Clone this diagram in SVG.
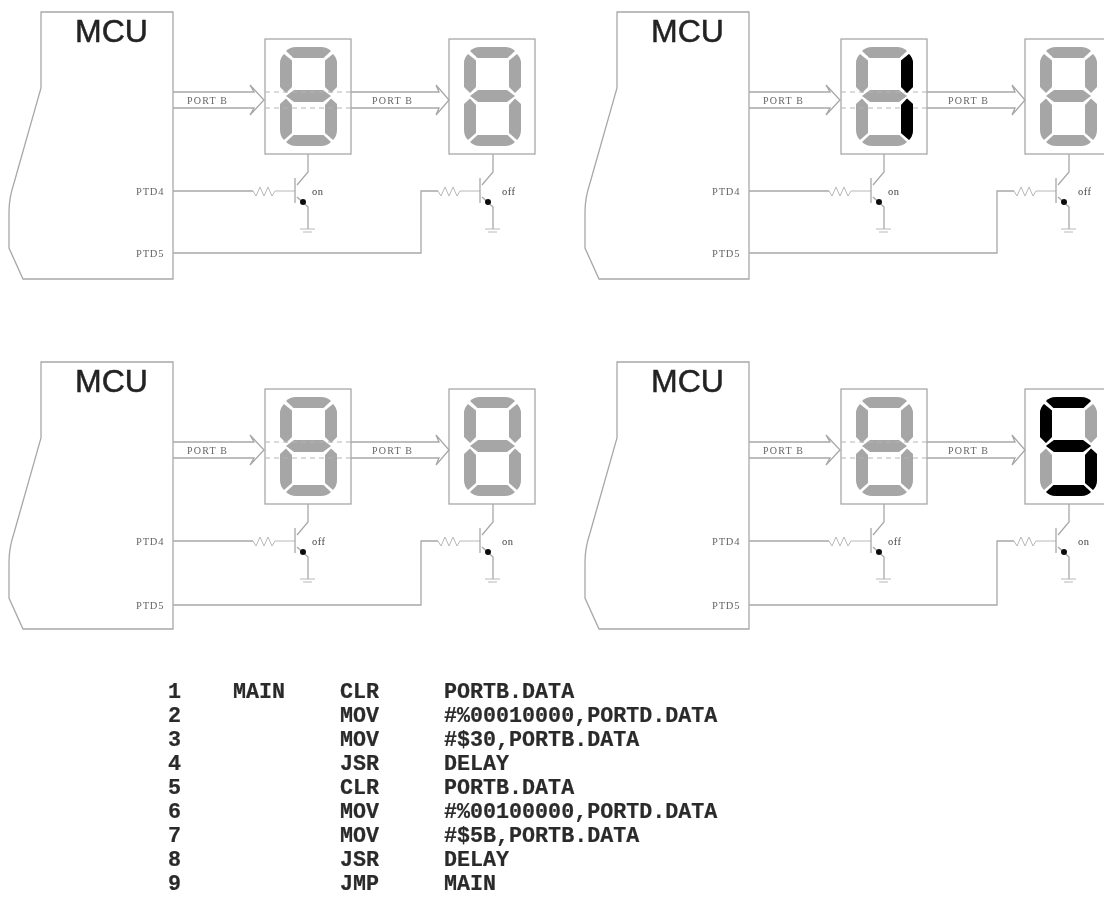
<svg xmlns="http://www.w3.org/2000/svg" xmlns:xlink="http://www.w3.org/1999/xlink" width="1104" height="897" viewBox="0 0 1104 897">
<style>
.ln{fill:none;stroke:#a8a8a8;stroke-width:1.3}
.thin{fill:none;stroke:#b8b8b8;stroke-width:1}
.dot{fill:none;stroke:#b4b4b4;stroke-width:1;stroke-dasharray:5 4}
.seg{fill:#a6a6a6}
.lit{fill:#000}
.mcu{font:32px "Liberation Sans",Arial,sans-serif;fill:#222;stroke:#222;stroke-width:.5}
.pin{font:10.5px "Liberation Serif","Times New Roman",serif;fill:#666;letter-spacing:.8px}
.bus{font:10px "Liberation Serif","Times New Roman",serif;fill:#666;letter-spacing:1.2px}
.st{font:10.5px "Liberation Serif","Times New Roman",serif;fill:#444;letter-spacing:.5px}
.code{font:bold 21.7px "Liberation Mono","Courier New",monospace;fill:#2a2a2a;stroke:#2a2a2a;stroke-width:.2}
</style>
<defs>
<filter id="soft" filterUnits="userSpaceOnUse" x="0" y="0" width="1104" height="897"><feGaussianBlur stdDeviation="0.6"/></filter>
<path id="shell" d="M41 12H173V279H23L9 248V212Q9 198 14 183L41 88Z"/>
<path id="segA" d="M286 51Q290 47 296 47H321Q327 47 331 51L323.5 58H293.5Z"/>
<path id="segB" d="M337 63Q337 58 333 54L325 60.5V87L331 93L337 87Z"/>
<path id="segC" d="M337 130Q337 136 333 140L325 133V105L331 98.5L337 104Z"/>
<path id="segD" d="M286 142Q290 146 296 146H321Q327 146 331 142L323.5 135H293.5Z"/>
<path id="segE" d="M280 130Q280 136 284 140L292 133V105L286 98.5L280 104Z"/>
<path id="segF" d="M280 63Q280 58 284 54L292 60.5V87L286 93L280 87Z"/>
<path id="segG" d="M286 96L294 90H323L331 96L323 102H294Z"/>
<g id="digit" class="seg"><use href="#segA"/><use href="#segB"/><use href="#segC"/><use href="#segD"/><use href="#segE"/><use href="#segF"/><use href="#segG"/></g>
<rect id="frame" x="265" y="39" width="86" height="115"/>
<g id="npn">
<path class="thin" d="M-42 0l3 5l4-9l4 9l4-9l4 9l3-5H0"/>
<path class="ln" d="M0-13V12M2-6L13-19V-37M2 6L13 16V38"/>
<path class="thin" d="M5 38H20M8 41H17"/>
<circle cx="8" cy="11" r="3" fill="#111"/>
</g>
<path id="bus1" class="ln" d="M173 92H254L250 85L264 100L250 115L254 108H173"/>
<path id="bus2" class="ln" d="M351 92H439L436 85L449 100L436 115L439 108H351"/>
<path id="thru" class="dot" d="M265 92H351M265 108H351"/>
</defs>
<rect width="1104" height="897" fill="#fff"/>
<g filter="url(#soft)">
<g id="connectors">
<g id="wires-1"><use href="#bus1"/><use href="#bus2"/><path class="ln" d="M173 191H253M173 253H421V191H438"/></g>
<g id="wires-2" transform="translate(576 0)"><use href="#bus1"/><use href="#bus2"/><path class="ln" d="M173 191H253M173 253H421V191H438"/></g>
<g id="wires-3" transform="translate(0 350)"><use href="#bus1"/><use href="#bus2"/><path class="ln" d="M173 191H253M173 255H421V191H438"/></g>
<g id="wires-4" transform="translate(576 350)"><use href="#bus1"/><use href="#bus2"/><path class="ln" d="M173 191H253M173 255H421V191H438"/></g>
</g>

<g id="mcu-1"><use href="#shell" class="ln"/><text class="mcu" x="75" y="42">MCU</text><text class="pin" x="136" y="195">PTD4</text><text class="pin" x="136" y="257">PTD5</text><text class="bus" x="187" y="104">PORT B</text></g>
<g id="display-1a"><use href="#frame" class="ln"/><use href="#digit"/><use href="#thru"/></g>
<g id="display-1b"><use href="#frame" class="ln" x="184"/><use href="#digit" x="184"/><text class="bus" x="372" y="104">PORT B</text></g>
<g id="transistor-1a"><use href="#npn" x="295" y="191"/><text class="st" x="312" y="195">on</text></g>
<g id="transistor-1b"><use href="#npn" x="480" y="191"/><text class="st" x="502" y="195">off</text></g>

<g transform="translate(576 0)">
<g id="mcu-2"><use href="#shell" class="ln"/><text class="mcu" x="75" y="42">MCU</text><text class="pin" x="136" y="195">PTD4</text><text class="pin" x="136" y="257">PTD5</text><text class="bus" x="187" y="104">PORT B</text></g>
<g id="display-2a"><use href="#frame" class="ln"/><use href="#digit"/><use href="#thru"/><use href="#segB" class="lit"/><use href="#segC" class="lit"/></g>
<g id="display-2b"><use href="#frame" class="ln" x="184"/><use href="#digit" x="184"/><text class="bus" x="372" y="104">PORT B</text></g>
<g id="transistor-2a"><use href="#npn" x="295" y="191"/><text class="st" x="312" y="195">on</text></g>
<g id="transistor-2b"><use href="#npn" x="480" y="191"/><text class="st" x="502" y="195">off</text></g>
</g>

<g transform="translate(0 350)">
<g id="mcu-3"><use href="#shell" class="ln"/><text class="mcu" x="75" y="42">MCU</text><text class="pin" x="136" y="195">PTD4</text><text class="pin" x="136" y="259">PTD5</text><text class="bus" x="187" y="104">PORT B</text></g>
<g id="display-3a"><use href="#frame" class="ln"/><use href="#digit"/><use href="#thru"/></g>
<g id="display-3b"><use href="#frame" class="ln" x="184"/><use href="#digit" x="184"/><text class="bus" x="372" y="104">PORT B</text></g>
<g id="transistor-3a"><use href="#npn" x="295" y="191"/><text class="st" x="312" y="195">off</text></g>
<g id="transistor-3b"><use href="#npn" x="480" y="191"/><text class="st" x="502" y="195">on</text></g>
</g>

<g transform="translate(576 350)">
<g id="mcu-4"><use href="#shell" class="ln"/><text class="mcu" x="75" y="42">MCU</text><text class="pin" x="136" y="195">PTD4</text><text class="pin" x="136" y="259">PTD5</text><text class="bus" x="187" y="104">PORT B</text></g>
<g id="display-4a"><use href="#frame" class="ln"/><use href="#digit"/><use href="#thru"/></g>
<g id="display-4b"><use href="#frame" class="ln" x="184"/><use href="#digit" x="184"/>
<g class="lit" transform="translate(184 0)"><use href="#segA"/><use href="#segF"/><use href="#segG"/><use href="#segC"/><use href="#segD"/></g>
<text class="bus" x="372" y="104">PORT B</text></g>
<g id="transistor-4a"><use href="#npn" x="295" y="191"/><text class="st" x="312" y="195">off</text></g>
<g id="transistor-4b"><use href="#npn" x="480" y="191"/><text class="st" x="502" y="195">on</text></g>
</g>

<g id="listing" class="code">
<text x="168" y="698">1</text><text x="233" y="698">MAIN</text><text x="340" y="698">CLR</text><text x="444" y="698">PORTB.DATA</text>
<text x="168" y="722">2</text><text x="340" y="722">MOV</text><text x="444" y="722">#%00010000,PORTD.DATA</text>
<text x="168" y="746">3</text><text x="340" y="746">MOV</text><text x="444" y="746">#$30,PORTB.DATA</text>
<text x="168" y="770">4</text><text x="340" y="770">JSR</text><text x="444" y="770">DELAY</text>
<text x="168" y="794">5</text><text x="340" y="794">CLR</text><text x="444" y="794">PORTB.DATA</text>
<text x="168" y="818">6</text><text x="340" y="818">MOV</text><text x="444" y="818">#%00100000,PORTD.DATA</text>
<text x="168" y="842">7</text><text x="340" y="842">MOV</text><text x="444" y="842">#$5B,PORTB.DATA</text>
<text x="168" y="866">8</text><text x="340" y="866">JSR</text><text x="444" y="866">DELAY</text>
<text x="168" y="890">9</text><text x="340" y="890">JMP</text><text x="444" y="890">MAIN</text>
</g>
</g>
</svg>
